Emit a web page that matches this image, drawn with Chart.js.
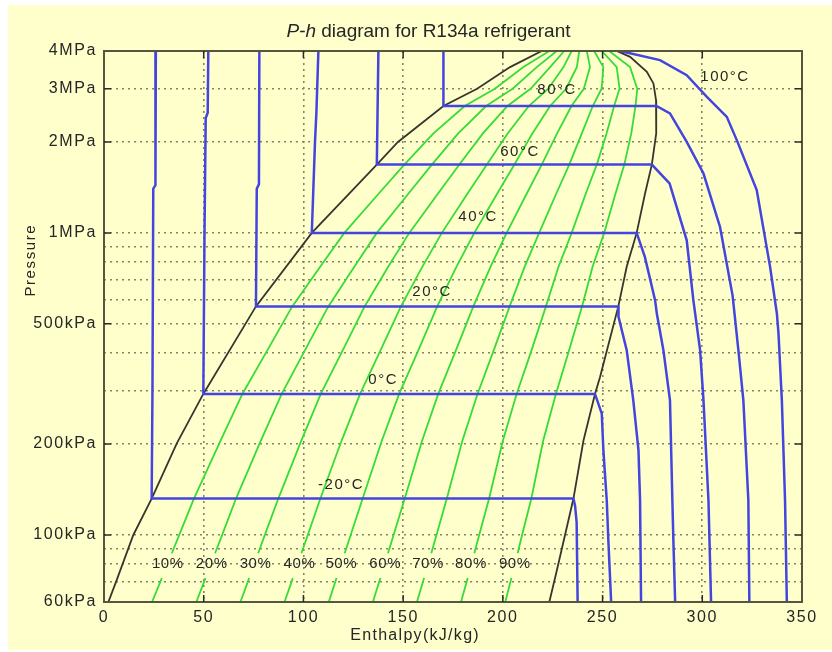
<!DOCTYPE html>
<html><head><meta charset="utf-8">
<script src="https://cdn.jsdelivr.net/npm/chart.js@4/dist/chart.umd.min.js"></script>
<style>html,body{margin:0;padding:0;background:#fff;}canvas{display:block;}</style>
</head><body>
<canvas id="c" width="832" height="652"></canvas>
<script>
// ---------- text ----------
const titleItalic = 'P-h';
const titleRest = ' diagram for R134a refrigerant';
const xAxisTitle = 'Enthalpy(kJ/kg)';
const yAxisTitle = 'Pressure';

// ---------- axes ----------
const xTickValues = [0, 50, 100, 150, 200, 250, 300, 350];
const yGridValues = [60, 70, 80, 90, 100, 200, 300, 400, 500, 600, 700, 800, 900, 1000, 2000, 3000, 4000];
const yLabelValues = [60, 100, 200, 500, 1000, 2000, 3000, 4000];
const yLabelTexts = ['60kPa', '100kPa', '200kPa', '500kPa', '1MPa', '2MPa', '3MPa', '4MPa'];

// ---------- saturation dome [h kJ/kg, P kPa] ----------
const satLiquid = [[2.2,60],[6.4,71],[14.7,100],[23.9,132],[36.5,201],[49.8,293],[76.2,571],[104.2,1000],[136.8,1683],[147.4,2000],[170.2,2630],[187.1,3000],[203.6,3538],[219.5,4000]];
const satVapor = [[223.3,60],[227.0,76],[235.4,132],[240.4,205],[246.2,293],[248.7,333],[257.9,571],[262.1,772],[267.1,1000],[271.3,1350],[274.7,1683],[276.8,2134],[277.0,2630],[276.8,2750],[275.5,3124],[272.2,3413],[263.8,3826],[257.1,4000]];

// ---------- isotherms [h, P] ----------
const isoM20 = [[26.0,4000],[25.8,1440],[24.7,1400],[24.3,300],[23.9,132],[235.4,132],[236.2,125],[237.0,110],[237.5,60]];
const iso0 = [[52.3,4000],[52.0,2500],[51.0,2400],[50.4,1000],[49.8,293],[246.2,293],[249.6,252],[250.4,191],[252.1,130],[252.9,96],[254.3,60]];
const iso20 = [[77.9,4000],[77.7,1450],[76.6,1400],[76.2,571],[257.9,571],[258.0,527],[262.1,409],[265.4,279],[268.0,191],[268.8,130],[269.3,60]];
const iso40 = [[107.5,4000],[106.5,2500],[105.8,2000],[104.2,1000],[267.1,1000],[271.2,833],[276.3,600],[277.2,541],[280.5,409],[283.8,279],[285.0,130],[285.5,96],[286.4,60]];
const iso60 = [[137.6,4000],[136.8,1683],[274.7,1683],[283.6,1457],[292.2,945],[295.5,600],[298.9,409],[300.6,279],[303.1,130],[304.4,60]];
const iso80 = [[170.2,4000],[170.2,2630],[277.0,2630],[283.8,2485],[292.2,2002],[300.6,1572],[308.9,1046],[315.2,620],[318.1,409],[320.6,279],[323.1,130],[323.6,60]];
const iso100 = [[258.8,4000],[278.8,3732],[292.2,3328],[302.3,2820],[312.3,2421],[317.3,2028],[327.3,1385],[334.0,772],[337.4,541],[338.2,466],[339.9,279],[341.5,130],[342.4,60]];

const tempLabels = ['-20°C', '0°C', '20°C', '40°C', '60°C', '80°C', '100°C'];
const tempLabelH = [118.9, 140.0, 164.5, 187.6, 208.6, 227.2, 311.4];
const tempLabelP = [146, 325, 636, 1127, 1850, 2970, 3278];

// ---------- constant-quality lines (h at each pressure, null = gap for labels) ----------
const qualityP = [60, 72, null, 87, 101, 132, 205, 293, 400, 571, 772, 1000, 1350, 1683, 2134, 2630, 3000, 3538, 4000];
const q10 = [24.1, 29.0, null, 34.0, 38.0, 45.1, 58.4, 69.4, 81.1, 94.4, 108.4, 120.5, 137.8, 150.6, 165.2, 180.9, 196.0, 210.3, 223.3];
const q20 = [46.3, 50.9, null, 55.7, 59.5, 66.2, 78.6, 89.1, 100.0, 112.5, 125.5, 136.8, 152.7, 164.4, 177.6, 191.6, 204.9, 217.0, 227.0];
const q30 = [68.4, 72.8, null, 77.3, 80.9, 87.4, 98.9, 108.7, 119.0, 130.7, 142.5, 153.1, 167.5, 178.2, 190.0, 202.3, 213.9, 223.7, 230.8];
const q40 = [90.5, 94.7, null, 99.0, 102.4, 108.5, 119.1, 128.4, 138.0, 148.9, 159.6, 169.4, 182.3, 192.0, 202.4, 213.0, 222.8, 230.4, 234.5];
const q50 = [112.7, 116.6, null, 120.7, 123.9, 129.7, 139.3, 148.0, 157.0, 167.1, 176.7, 185.7, 197.2, 205.8, 214.8, 223.7, 231.7, 237.1, 238.3];
const q60 = [134.8, 138.6, null, 142.4, 145.4, 150.8, 159.5, 167.6, 175.9, 185.2, 193.8, 201.9, 212.0, 219.5, 227.2, 234.4, 240.6, 243.7, 242.1];
const q70 = [156.9, 160.5, null, 164.1, 166.9, 171.9, 179.7, 187.3, 194.9, 203.4, 210.9, 218.2, 226.8, 233.3, 239.6, 245.1, 249.5, 250.4, 245.8];
const q80 = [179.0, 182.4, null, 185.7, 188.3, 193.1, 200.0, 206.9, 213.9, 221.6, 227.9, 234.5, 241.6, 247.1, 252.0, 255.8, 258.5, 257.1, 249.6];
const q90 = [201.2, 204.3, null, 207.4, 209.8, 214.3, 220.2, 226.6, 232.8, 239.7, 245.0, 250.8, 256.5, 260.9, 264.4, 266.5, 267.4, 263.8, 253.3];
const qualityLabels = ['10%', '20%', '30%', '40%', '50%', '60%', '70%', '80%', '90%'];
const qualityLabelH = [32, 54, 76, 98, 119, 141, 162.5, 184, 206];
const qualityLabelP = 80;

// ---------- styles ----------
const FONT = "'Liberation Sans', Arial, Helvetica, sans-serif";
const BLUE = '#4444e0';
const GREEN = '#36dc36';
const DOME = '#36362f';
const TEXT = '#262626';
const BG = '#ffffcc';

const pts = arr => arr.map(([h, p]) => ({x: h, y: p}));
const qpts = arr => qualityP.map((p, i) => ({x: arr[i], y: p}));

const datasets = [];
[q10, q20, q30, q40, q50, q60, q70, q80, q90].forEach((q, i) => datasets.push({
  label: qualityLabels[i], data: qpts(q), borderColor: GREEN, borderWidth: 1.8, order: 3
}));
datasets.push({label: 'saturation', data: pts(satLiquid.concat(satVapor.slice().reverse())), borderColor: DOME, borderWidth: 1.8, order: 2});
[isoM20, iso0, iso20, iso40, iso60, iso80, iso100].forEach((iso, i) => datasets.push({
  label: tempLabels[i], data: pts(iso), borderColor: BLUE, borderWidth: 2.5, order: 1
}));
datasets.forEach(d => { d.showLine = true; d.pointRadius = 0; d.fill = false; d.spanGaps = false; d.tension = 0; });

function txt(ctx, s, x, y, font, spacing, align, color) {
  ctx.save();
  ctx.font = font;
  ctx.letterSpacing = (spacing || 0) + 'px';
  ctx.fillStyle = color || TEXT;
  ctx.textAlign = align || 'center';
  ctx.textBaseline = 'middle';
  ctx.fillText(s, x, y);
  ctx.restore();
}

const titleCenterH = 162.7;
const xTitleCenterH = 156;
const yTitleCenterP = 812;

const decor = {
  id: 'decor',
  beforeDraw(chart) {
    const ctx = chart.ctx;
    ctx.save();
    ctx.fillStyle = BG;
    ctx.fillRect(8, 5, chart.width - 8, chart.height - 7);
    ctx.restore();
    ctx.letterSpacing = '1.6px';
  },
  afterDatasetsDraw(chart) {
    const ctx = chart.ctx, a = chart.chartArea, xs = chart.scales.x, ys = chart.scales.y;
    tempLabels.forEach((t, i) => txt(ctx, t, xs.getPixelForValue(tempLabelH[i]), ys.getPixelForValue(tempLabelP[i]), '15px ' + FONT, 1.5));
    qualityLabels.forEach((t, i) => txt(ctx, t, xs.getPixelForValue(qualityLabelH[i]), ys.getPixelForValue(qualityLabelP), '15px ' + FONT, 0.6));
    ctx.save();
    ctx.letterSpacing = '0px';
    ctx.strokeStyle = '#56563e';
    ctx.lineWidth = 2;
    ctx.strokeRect(a.left, a.top, a.right - a.left, a.bottom - a.top);
    ctx.strokeStyle = '#2a2a2a';
    ctx.lineWidth = 1.5;
    ctx.beginPath();
    xTickValues.forEach(v => {
      if (v <= xs.min || v >= xs.max) return;
      const px = xs.getPixelForValue(v);
      ctx.moveTo(px, a.bottom); ctx.lineTo(px, a.bottom - 7);
      ctx.moveTo(px, a.top); ctx.lineTo(px, a.top + 7);
    });
    yLabelValues.forEach(v => {
      if (v <= ys.min || v >= ys.max) return;
      const py = ys.getPixelForValue(v);
      ctx.moveTo(a.left, py); ctx.lineTo(a.left + 7, py);
      ctx.moveTo(a.right, py); ctx.lineTo(a.right - 7, py);
    });
    ctx.stroke();
    ctx.restore();
  },
  afterDraw(chart) {
    const ctx = chart.ctx, a = chart.chartArea, xs = chart.scales.x, ys = chart.scales.y;
    ctx.save();
    ctx.letterSpacing = '0px';
    const fI = 'italic 19px ' + FONT, fN = '19px ' + FONT;
    ctx.font = fI; const w1 = ctx.measureText(titleItalic).width;
    ctx.font = fN; const w2 = ctx.measureText(titleRest).width;
    const cx = xs.getPixelForValue(titleCenterH);
    const x0 = cx - (w1 + w2) / 2;
    ctx.fillStyle = TEXT; ctx.textBaseline = 'middle'; ctx.textAlign = 'left';
    ctx.font = fI; ctx.fillText(titleItalic, x0, a.top - 19);
    ctx.font = fN; ctx.fillText(titleRest, x0 + w1, a.top - 19);
    ctx.restore();
    txt(ctx, xAxisTitle, xs.getPixelForValue(xTitleCenterH), a.bottom + 34, '16px ' + FONT, 1.3);
    ctx.save();
    ctx.translate(31, ys.getPixelForValue(yTitleCenterP));
    ctx.rotate(-Math.PI / 2);
    txt(ctx, yAxisTitle, 0, 0, '15px ' + FONT, 1.6);
    ctx.restore();
  }
};

new Chart(document.getElementById('c'), {
  type: 'scatter',
  data: {datasets},
  options: {
    responsive: false,
    animation: false,
    devicePixelRatio: 1,
    layout: {padding: {left: 0, right: 30, top: 51, bottom: 0}},
    plugins: {legend: {display: false}, tooltip: {enabled: false}, title: {display: false}},
    scales: {
      x: {
        type: 'linear', min: 0, max: 350,
        afterFit: s => { s.height = 50; },
        afterBuildTicks: s => { s.ticks = xTickValues.map(v => ({value: v})); },
        ticks: {autoSkip: false, maxRotation: 0, padding: 6, color: TEXT, font: {family: FONT, size: 16}, callback: v => String(v)},
        grid: {
          drawTicks: false, lineWidth: 1.6,
          color: c => (c.tick && (c.tick.value <= 0 || c.tick.value >= 350)) ? 'rgba(0,0,0,0)' : '#84846c'
        },
        border: {display: false, dash: [2, 4]}
      },
      y: {
        type: 'logarithmic', min: 60, max: 4000,
        afterFit: s => { s.width = 104; },
        afterBuildTicks: s => { s.ticks = yGridValues.map(v => ({value: v})); },
        ticks: {
          autoSkip: false, padding: 7, color: TEXT, font: {family: FONT, size: 16},
          callback: v => { const i = yLabelValues.indexOf(v); return i >= 0 ? yLabelTexts[i] : ''; }
        },
        grid: {
          drawTicks: false, lineWidth: 1.6,
          color: c => (c.tick && (c.tick.value <= 60 || c.tick.value >= 4000)) ? 'rgba(0,0,0,0)' : '#84846c'
        },
        border: {display: false, dash: [2, 4]}
      }
    }
  },
  plugins: [decor]
});
</script>
</body></html>
